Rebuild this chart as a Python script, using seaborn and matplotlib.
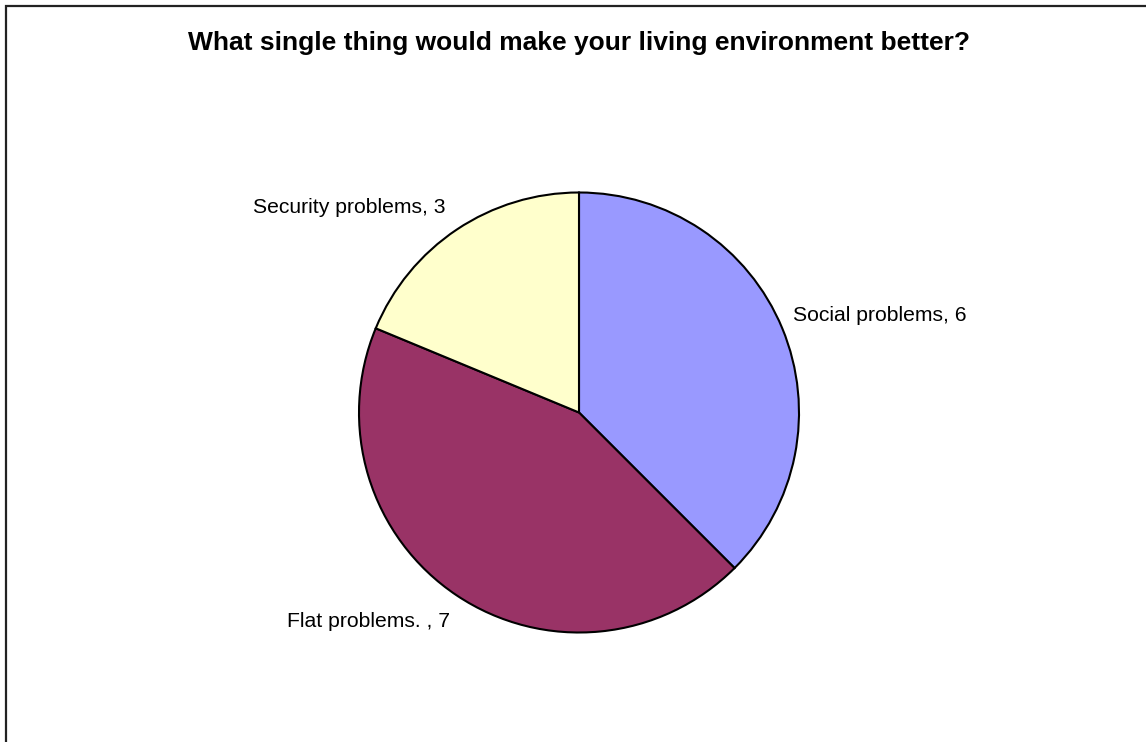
import matplotlib
matplotlib.use("Agg")
import matplotlib.pyplot as plt
from matplotlib.patches import Rectangle
import seaborn as sns

# Survey answers
categories = ["Social problems", "Flat problems. ", "Security problems"]
counts = [6, 7, 3]
slice_colors = ["#9999FF", "#993366", "#FFFFCC"]
title = "What single thing would make your living environment better?"

sns.set_theme(style="white")
plt.rcParams["font.family"] = ["Liberation Sans", "DejaVu Sans"]

W, H = 1146, 742
fig = plt.figure(figsize=(W / 100, H / 100), dpi=100)
fig.patch.set_facecolor("white")

# square axes holding the pie (centre ~ (579, 412) px, radius ~220 px)
cx, cy, r = 579, 412.5, 220
ax = fig.add_axes([(cx - r) / W, (H - cy - r) / H, 2 * r / W, 2 * r / H])
palette = sns.color_palette(slice_colors)
ax.pie(counts, colors=palette, startangle=90, counterclock=False,
       wedgeprops=dict(edgecolor="black", linewidth=1.5), radius=1.0)
ax.set_xlim(-1, 1)
ax.set_ylim(-1, 1)
ax.set_aspect("equal")
ax.axis("off")

# slice labels "name, value"
label_pos = {
    "Social problems": (793, 321),
    "Flat problems. ": (287, 627),
    "Security problems": (253, 213),
}
for name, val in zip(categories, counts):
    px, py = label_pos[name]
    fig.text(px / W, (H - py) / H, f"{name}, {val}", ha="left", va="baseline",
             fontsize=15.2, color="black")

fig.text(cx / W, (H - 50) / H, title, ha="center", va="baseline",
         fontsize=19, fontweight="bold", color="black")

# chart-area frame (runs off the right and bottom edges)
fig.patches.append(Rectangle((5.5 / W, -0.05), 1.2, (H - 5.5) / H + 0.05,
                             transform=fig.transFigure, fill=False,
                             edgecolor="#222222", linewidth=1.6))

fig.savefig("out.png", dpi=100, facecolor="white")
